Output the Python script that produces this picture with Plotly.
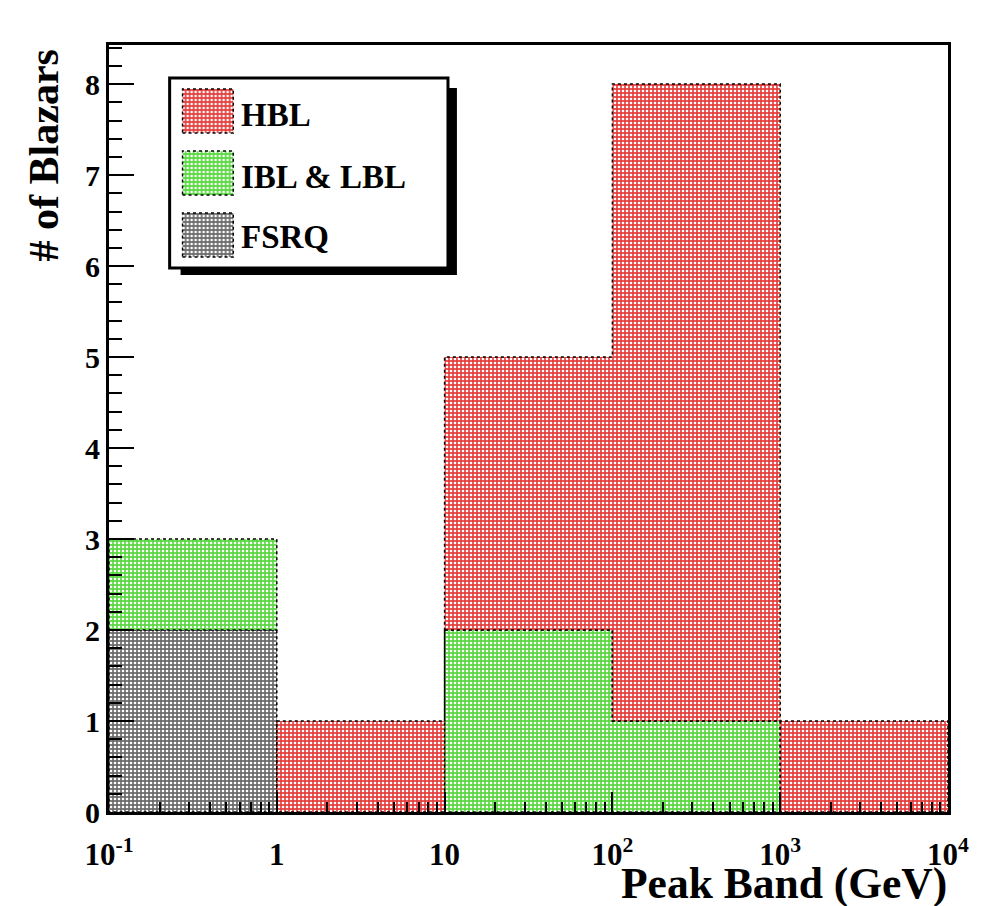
import plotly.graph_objects as go

# ---- data ----
bin_edges = [0.1, 1, 10, 100, 1000, 10000]
series_names = ["FSRQ", "IBL & LBL", "HBL"]          # stacking order, bottom to top
fsrq_counts = [2, 0, 0, 0, 0]
ibl_lbl_counts = [1, 0, 2, 1, 0]
hbl_counts = [0, 1, 3, 7, 1]
x_tick_vals = [0.1, 1, 10, 100, 1000, 10000]
x_tick_text = ["10<sup>-1</sup>", "1", "10", "10<sup>2</sup>", "10<sup>3</sup>", "10<sup>4</sup>"]
legend_order = ["HBL", "IBL & LBL", "FSRQ"]

colors = {
    "HBL": ("#e4403f", "#ffffff"),
    "IBL & LBL": ("#5ad842", "#ffffff"),
    "FSRQ": ("#6c6c6c", "#ffffff"),
}
FONT = "Liberation Serif"

counts = {"FSRQ": fsrq_counts, "IBL & LBL": ibl_lbl_counts, "HBL": hbl_counts}

# plot-area geometry in page pixels (for placing the hand-made legend / titles)
AX_L, AX_R, AX_T, AX_B = 108, 952, 45, 812


def px(x):
    return (x - AX_L) / (AX_R - AX_L)


def py(y):
    return (AX_B - y) / (AX_B - AX_T)


def pattern(name):
    bg, fg = colors[name]
    return dict(shape=".", bgcolor=bg, fgcolor=fg, size=4, solidity=0.33, fillmode="replace")


def step_polygons(vals, base):
    """Closed step outlines for contiguous runs of non-zero bins."""
    xs, ys = [], []
    n = len(vals)
    i = 0
    while i < n:
        if vals[i] <= 0:
            i += 1
            continue
        j = i
        while j + 1 < n and vals[j + 1] > 0:
            j += 1
        top = [base[k] + vals[k] for k in range(i, j + 1)]
        bot = [base[k] for k in range(i, j + 1)]
        ppx, ppy = [], []
        for k in range(i, j + 1):
            ppx += [bin_edges[k], bin_edges[k + 1]]
            ppy += [top[k - i], top[k - i]]
        for k in range(j, i - 1, -1):
            ppx += [bin_edges[k + 1], bin_edges[k]]
            ppy += [bot[k - i], bot[k - i]]
        ppx.append(ppx[0])
        ppy.append(ppy[0])
        xs += ppx + [None]
        ys += ppy + [None]
        i = j + 1
    return xs, ys


fig = go.Figure()
base = [0] * len(fsrq_counts)
for name in series_names:
    vals = counts[name]
    xs, ys = step_polygons(vals, base)
    fig.add_trace(go.Scatter(
        x=xs, y=ys, mode="lines", fill="toself",
        fillpattern=pattern(name),
        line=dict(color="black", width=1.5, dash="dot"),
        showlegend=False, hoverinfo="skip", name=name,
    ))
    base = [b + v for b, v in zip(base, vals)]

# ---- custom ROOT-style legend ----
BOX = (169, 449, 78, 268)     # left, right, top, bottom (page px)
SHADOW = (180, 458, 88, 275)
bw, bh = BOX[1] - BOX[0], BOX[3] - BOX[2]
sw_x = [(182 - BOX[0]) / bw, (233 - BOX[0]) / bw]
sw_rows = {"HBL": (89, 133), "IBL & LBL": (151, 195), "FSRQ": (213, 257)}
text_rows = {"HBL": 115, "IBL & LBL": 177, "FSRQ": 237}
for name in legend_order:
    t, b = sw_rows[name]
    y0, y1 = (BOX[3] - b) / bh, (BOX[3] - t) / bh
    fig.add_trace(go.Scatter(
        x=[sw_x[0], sw_x[1], sw_x[1], sw_x[0], sw_x[0]],
        y=[y0, y0, y1, y1, y0],
        mode="lines", fill="toself", fillpattern=pattern(name),
        line=dict(color="black", width=1.5, dash="dot"),
        xaxis="x2", yaxis="y2", showlegend=False, hoverinfo="skip",
    ))
    fig.add_annotation(
        x=px(239), y=py(text_rows[name]), xref="paper", yref="paper",
        xanchor="left", yanchor="middle", showarrow=False, text=name,
        font=dict(family=FONT, size=33, color="black", weight="bold"),
    )

fig.add_shape(type="rect", xref="paper", yref="paper",
              x0=px(SHADOW[0]), x1=px(SHADOW[1]), y0=py(SHADOW[3]), y1=py(SHADOW[2]),
              fillcolor="black", line=dict(width=0), layer="below")
fig.add_shape(type="rect", xref="paper", yref="paper",
              x0=px(BOX[0]), x1=px(BOX[1]), y0=py(BOX[3]), y1=py(BOX[2]),
              fillcolor="white", line=dict(color="black", width=3), layer="below")

# axis titles
fig.add_annotation(
    x=px(953), y=py(884), xref="paper", yref="paper", xanchor="right", yanchor="middle",
    showarrow=False, text="Peak Band (GeV)",
    font=dict(family=FONT, size=43.5, color="black", weight="bold"),
)
fig.add_annotation(
    x=px(43), y=py(155), xref="paper", yref="paper", xanchor="center", yanchor="middle",
    showarrow=False, text="# of Blazars", textangle=-90,
    font=dict(family=FONT, size=42, color="black", weight="bold"),
)

minor_x = [m * 10 ** e for e in range(-1, 4) for m in range(2, 10)]

fig.update_layout(
    width=973, height=898,
    margin=dict(l=101, r=25, t=37, b=94),
    paper_bgcolor="white", plot_bgcolor="rgba(0,0,0,0)",
    showlegend=False,
    xaxis=dict(
        type="log", range=[-1, 4], showgrid=False, zeroline=False,
        showline=True, mirror=True, linecolor="black", linewidth=3,
        tickmode="array", tickvals=x_tick_vals, ticktext=x_tick_text,
        ticks="inside", ticklen=20, tickwidth=2, tickcolor="black",
        ticklabelstandoff=13,
        tickfont=dict(family=FONT, size=31, color="black", weight="bold"),
        minor=dict(tickmode="array", tickvals=minor_x, ticks="inside",
                   ticklen=10, tickwidth=2, tickcolor="black", showgrid=False),
    ),
    yaxis=dict(
        range=[0, 8.43], showgrid=False, zeroline=False,
        showline=True, mirror=True, linecolor="black", linewidth=3,
        tickmode="linear", tick0=0, dtick=1,
        ticks="inside", ticklen=25, tickwidth=2, tickcolor="black",
        tickfont=dict(family=FONT, size=30, color="black", weight="bold"),
        minor=dict(dtick=0.2, ticks="inside", ticklen=13, tickwidth=2,
                   tickcolor="black", showgrid=False),
    ),
    xaxis2=dict(domain=[px(BOX[0]), px(BOX[1])], range=[0, 1], anchor="y2", visible=False),
    yaxis2=dict(domain=[py(BOX[3]), py(BOX[2])], range=[0, 1], anchor="x2", visible=False),
)

fig.write_html("out.html")
